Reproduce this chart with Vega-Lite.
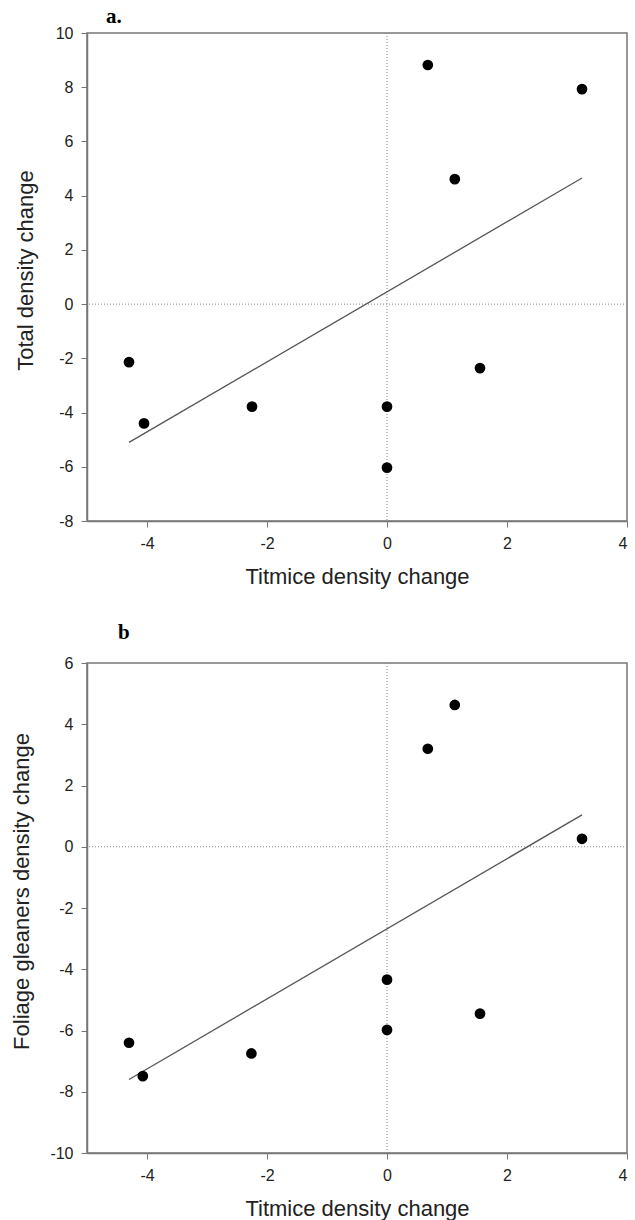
{
  "$schema": "https://vega.github.io/schema/vega-lite/v6.json",
  "background": "white",
  "padding": {"left": 9, "top": 5, "right": 5, "bottom": 5},
  "spacing": 33,
  "config": {
    "view": {"stroke": "#777", "strokeWidth": 1.5},
    "axis": {
      "grid": false,
      "domainColor": "#777",
      "domainWidth": 1.5,
      "tickColor": "#777",
      "tickSize": 6,
      "labelFont": "Liberation Sans",
      "labelFontSize": 16,
      "labelColor": "#222",
      "labelExpr": "datum.value + ''",
      "titleFont": "Liberation Sans",
      "titleFontSize": 22,
      "titleFontWeight": "normal",
      "titleColor": "#222"
    }
  },
  "datasets": {
    "a": [
      {"x": -4.3, "y": -2.14},
      {"x": -4.05, "y": -4.4},
      {"x": -2.25, "y": -3.78},
      {"x": 0, "y": -3.78},
      {"x": 0, "y": -6.03},
      {"x": 0.68, "y": 8.82},
      {"x": 1.13, "y": 4.61},
      {"x": 1.55, "y": -2.36},
      {"x": 3.25, "y": 7.93}
    ],
    "aline": [{"x": -4.3, "y": -5.1}, {"x": 3.25, "y": 4.65}],
    "b": [
      {"x": -4.3, "y": -6.4},
      {"x": -4.07, "y": -7.49},
      {"x": -2.26, "y": -6.75},
      {"x": 0, "y": -4.34},
      {"x": 0, "y": -5.98},
      {"x": 0.68, "y": 3.2},
      {"x": 1.13, "y": 4.63},
      {"x": 1.55, "y": -5.45},
      {"x": 3.25, "y": 0.26}
    ],
    "bline": [{"x": -4.3, "y": -7.6}, {"x": 3.25, "y": 1.04}],
    "zero": [{"x": 0, "y": 0}]
  },
  "vconcat": [
    {
      "title": {"text": "a.", "anchor": "start", "frame": "group", "font": "Liberation Serif", "fontSize": 21, "fontWeight": "bold", "color": "black", "dx": 19, "offset": -19, "baseline": "alphabetic"},
      "width": 540,
      "height": 488,
      "layer": [
        {
          "data": {"name": "zero"},
          "mark": {"type": "rule", "color": "#888", "strokeDash": [1, 2], "strokeWidth": 1},
          "encoding": {"x": {"field": "x", "type": "quantitative", "title": "Titmice density change", "scale": {"domain": [-5, 4], "nice": false, "zero": false}}}
        },
        {
          "data": {"name": "zero"},
          "mark": {"type": "rule", "color": "#888", "strokeDash": [1, 2], "strokeWidth": 1},
          "encoding": {"y": {"field": "y", "type": "quantitative", "title": "Total density change", "scale": {"domain": [-8, 10], "nice": false, "zero": false}}}
        },
        {
          "data": {"name": "aline"},
          "mark": {"type": "line", "color": "#555", "strokeWidth": 1.3},
          "encoding": {
            "x": {"field": "x", "type": "quantitative", "title": "Titmice density change"},
            "y": {"field": "y", "type": "quantitative", "title": "Total density change"}
          }
        },
        {
          "data": {"name": "a"},
          "mark": {"type": "circle", "color": "black", "opacity": 1, "size": 115},
          "encoding": {
            "x": {"field": "x", "type": "quantitative", "title": "Titmice density change", "scale": {"domain": [-5, 4], "nice": false, "zero": false},
              "axis": {"values": [-4, -2, 0, 2, 4], "labelPadding": 8, "titlePadding": 15}},
            "y": {"field": "y", "type": "quantitative", "title": "Total density change", "scale": {"domain": [-8, 10], "nice": false, "zero": false},
              "axis": {"values": [-8, -6, -4, -2, 0, 2, 4, 6, 8, 10], "labelPadding": 8, "titleX": -62, "titleY": 237, "titleBaseline": "middle"}}
          }
        }
      ]
    },
    {
      "title": {"text": "b", "anchor": "start", "frame": "group", "font": "Liberation Serif", "fontSize": 21, "fontWeight": "bold", "color": "black", "dx": 31, "offset": -5, "baseline": "alphabetic"},
      "width": 540,
      "height": 490,
      "layer": [
        {
          "data": {"name": "zero"},
          "mark": {"type": "rule", "color": "#888", "strokeDash": [1, 2], "strokeWidth": 1},
          "encoding": {"x": {"field": "x", "type": "quantitative", "title": "Titmice density change", "scale": {"domain": [-5, 4], "nice": false, "zero": false}}}
        },
        {
          "data": {"name": "zero"},
          "mark": {"type": "rule", "color": "#888", "strokeDash": [1, 2], "strokeWidth": 1},
          "encoding": {"y": {"field": "y", "type": "quantitative", "title": "Foliage gleaners density change", "scale": {"domain": [-10, 6], "nice": false, "zero": false}}}
        },
        {
          "data": {"name": "bline"},
          "mark": {"type": "line", "color": "#555", "strokeWidth": 1.3},
          "encoding": {
            "x": {"field": "x", "type": "quantitative", "title": "Titmice density change"},
            "y": {"field": "y", "type": "quantitative", "title": "Foliage gleaners density change"}
          }
        },
        {
          "data": {"name": "b"},
          "mark": {"type": "circle", "color": "black", "opacity": 1, "size": 115},
          "encoding": {
            "x": {"field": "x", "type": "quantitative", "title": "Titmice density change", "scale": {"domain": [-5, 4], "nice": false, "zero": false},
              "axis": {"values": [-4, -2, 0, 2, 4], "labelPadding": 8, "titlePadding": 15}},
            "y": {"field": "y", "type": "quantitative", "title": "Foliage gleaners density change", "scale": {"domain": [-10, 6], "nice": false, "zero": false},
              "axis": {"values": [-10, -8, -6, -4, -2, 0, 2, 4, 6], "labelPadding": 8, "titleX": -66, "titleY": 228, "titleBaseline": "middle"}}
          }
        }
      ]
    }
  ]
}
